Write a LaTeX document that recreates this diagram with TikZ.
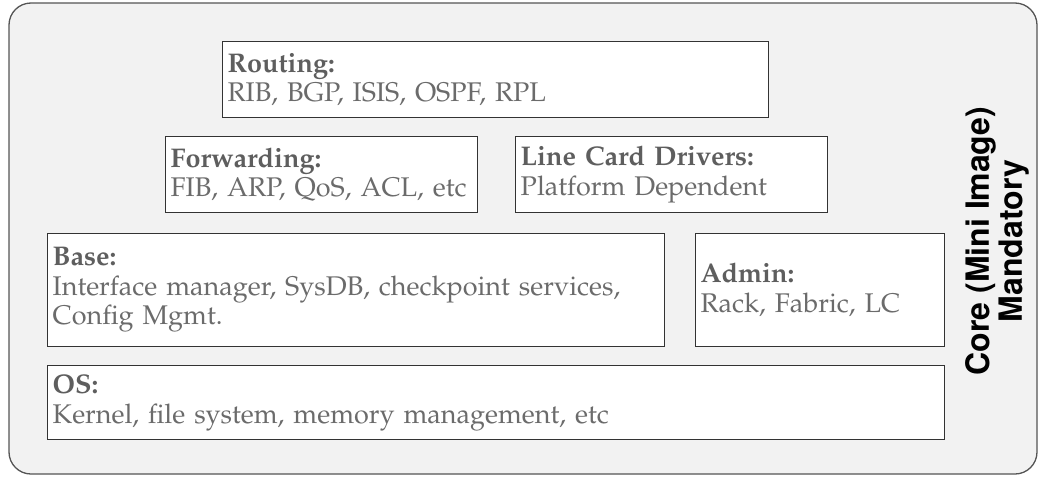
\documentclass[tikz,border=0pt]{standalone}
\usepackage[T1]{fontenc}
\usepackage{mathpazo}
\usepackage{helvet}
\definecolor{outerfill}{HTML}{F2F2F2}
\definecolor{outerline}{HTML}{555555}
\definecolor{boxline}{HTML}{333333}
\definecolor{txt}{HTML}{6B6B6B}
\definecolor{ttl}{HTML}{5E5E5E}
\tikzset{
  layer/.style={draw=boxline, fill=white, line width=1.4pt, inner xsep=5pt, inner ysep=0pt,
    align=left, text=txt, font=\fontsize{27}{29.5}\selectfont, anchor=north west},
}
\newcommand{\ttlx}[1]{\textcolor{ttl}{\textbf{#1}}}
\begin{document}
\begin{tikzpicture}[x=1pt,y=-1pt]
\useasboundingbox (0,0) rectangle (1042,477);
\draw[draw=outerline, fill=outerfill, line width=1.3pt, rounded corners=22pt] (9,3) rectangle (1037,474);
\node[layer, minimum width=546pt, minimum height=76pt, text width=536pt] (routing) at (222,41)
  {\ttlx{Routing:}\\RIB, BGP, ISIS, OSPF, RPL};
\node[layer, minimum width=312pt, minimum height=76pt, text width=302pt] (fwd) at (165,136)
  {\ttlx{Forwarding:}\\FIB, ARP, QoS, ACL, etc};
\node[layer, minimum width=312pt, minimum height=76pt, text width=302pt] (lcd) at (515,136)
  {\ttlx{Line Card Drivers:}\\Platform Dependent};
\node[layer, minimum width=617pt, minimum height=113pt, text width=607pt] (base) at (47,233)
  {\ttlx{Base:}\\Interface manager, SysDB, checkpoint services,\\Config Mgmt.};
\node[layer, minimum width=249pt, minimum height=113pt, text width=239pt] (admin) at (695,233)
  {\ttlx{Admin:}\\Rack, Fabric, LC};
\node[layer, minimum width=897pt, minimum height=74pt, text width=887pt] (os) at (47,365)
  {\ttlx{OS:}\\Kernel, file system, memory management, etc};
\node[rotate=90, align=center, font=\fontsize{32}{33}\selectfont\sffamily\bfseries, text=black] (core) at (997,241)
  {Core (Mini Image)\\Mandatory};
\end{tikzpicture}
\end{document}
